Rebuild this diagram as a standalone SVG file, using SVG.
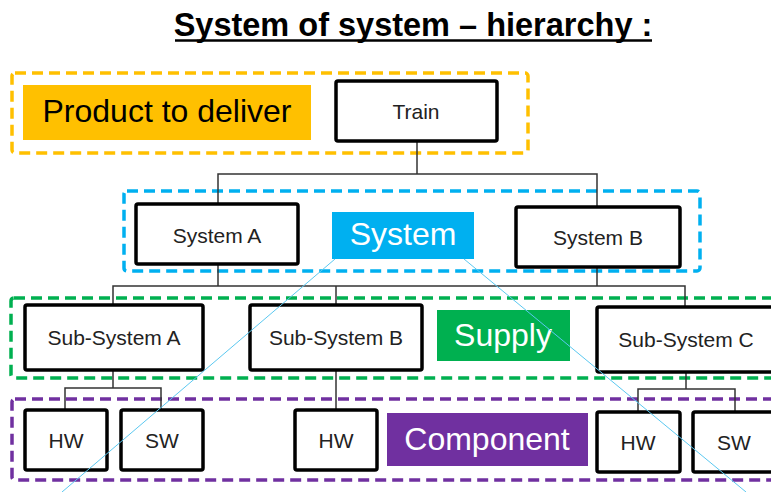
<svg xmlns="http://www.w3.org/2000/svg" width="771" height="492" viewBox="0 0 771 492">
<style>
.bg{fill:#fff}
.node{fill:#fff;stroke:#000;stroke-width:3.5}
.lbl{font-family:"Liberation Sans",Arial,sans-serif;font-size:21px;fill:#222;text-anchor:middle;dominant-baseline:central}
.big{font-family:"Liberation Sans",Arial,sans-serif;font-size:32px;text-anchor:middle;dominant-baseline:central}
.dash{fill:none;stroke-width:3.5;stroke-dasharray:11 6}
.conn{fill:none;stroke:#333;stroke-width:1.5}
.thin{fill:none;stroke:#5BC8F0;stroke-width:1}
</style>
<rect class="bg" x="0" y="0" width="771" height="492"/>
<g id="title">
<text x="413" y="36" font-family="Liberation Sans,Arial,sans-serif" font-size="32.5" font-weight="bold" text-anchor="middle" fill="#000">System of system – hierarchy :</text>
<line x1="175" y1="40.5" x2="652" y2="40.5" stroke="#000" stroke-width="2.5"/>
</g>
<g id="groups">
<rect class="dash" x="12" y="73" width="516" height="80" rx="3" stroke="#FFC000"/>
<rect class="dash" x="124" y="191" width="576" height="80" rx="3" stroke="#00B0F0"/>
<rect class="dash" x="11" y="298" width="770" height="80" rx="3" stroke="#00B050"/>
<rect class="dash" x="12" y="399" width="770" height="81" rx="3" stroke="#7030A0"/>
</g>
<g id="connectors">
<polyline class="conn" points="417,141 417,174"/>
<polyline class="conn" points="218,205 218,174 597,174 597,207"/>
<polyline class="conn" points="218,264 218,286"/>
<polyline class="conn" points="597,267 597,286"/>
<polyline class="conn" points="113,305 113,286 685,286 685,307"/>
<polyline class="conn" points="336,286 336,305"/>
<polyline class="conn" points="113,370 113,388"/>
<polyline class="conn" points="65,410 65,388 161,388 161,410"/>
<polyline class="conn" points="336,370 336,410"/>
<polyline class="conn" points="686,372 686,389"/>
<polyline class="conn" points="638,412 638,389 735,389 735,412"/>
</g>
<g id="tag-product">
<rect x="23" y="85" width="288" height="55" fill="#FFC000"/>
<text class="big" x="167" y="111" fill="#000">Product to deliver</text>
</g>
<g id="node-train">
<rect class="node" x="336" y="81" width="161" height="60" rx="2"/>
<text class="lbl" x="416" y="111">Train</text>
</g>
<g id="node-system-a">
<rect class="node" x="136" y="204" width="162" height="60" rx="2"/>
<text class="lbl" x="217" y="235">System A</text>
</g>
<g id="tag-system">
<rect x="332" y="212" width="142" height="47" fill="#00B0F0"/>
<text class="big" x="403" y="234" fill="#fff">System</text>
</g>
<g id="node-system-b">
<rect class="node" x="516" y="207" width="164" height="60" rx="2"/>
<text class="lbl" x="598" y="237">System B</text>
</g>
<g id="node-subsystem-a">
<rect class="node" x="25" y="305" width="178" height="65" rx="2"/>
<text class="lbl" x="114" y="337">Sub-System A</text>
</g>
<g id="node-subsystem-b">
<rect class="node" x="250" y="305" width="172" height="65" rx="2"/>
<text class="lbl" x="336" y="337">Sub-System B</text>
</g>
<g id="tag-supply">
<rect x="437" y="310" width="133" height="51" fill="#00B050"/>
<text class="big" x="503" y="335" fill="#fff">Supply</text>
</g>
<g id="node-subsystem-c">
<rect class="node" x="597" y="307" width="180" height="65" rx="2"/>
<text class="lbl" x="686" y="339">Sub-System C</text>
</g>
<g id="node-hw1">
<rect class="node" x="25" y="410" width="82" height="60" rx="2"/>
<text class="lbl" x="66" y="440">HW</text>
</g>
<g id="node-sw1">
<rect class="node" x="121" y="410" width="82" height="60" rx="2"/>
<text class="lbl" x="162" y="440">SW</text>
</g>
<g id="node-hw2">
<rect class="node" x="295" y="410" width="82" height="60" rx="2"/>
<text class="lbl" x="336" y="440">HW</text>
</g>
<g id="tag-component">
<rect x="387" y="413" width="201" height="53" fill="#7030A0"/>
<text class="big" x="487" y="439" fill="#fff">Component</text>
</g>
<g id="node-hw3">
<rect class="node" x="597" y="412" width="83" height="60" rx="2"/>
<text class="lbl" x="638" y="442">HW</text>
</g>
<g id="node-sw3">
<rect class="node" x="693" y="412" width="84" height="60" rx="2"/>
<text class="lbl" x="734" y="442">SW</text>
</g>
<g id="guides">
<line class="thin" x1="335" y1="259" x2="62" y2="492"/>
<line class="thin" x1="464" y1="259" x2="746" y2="492"/>
</g>
</svg>
